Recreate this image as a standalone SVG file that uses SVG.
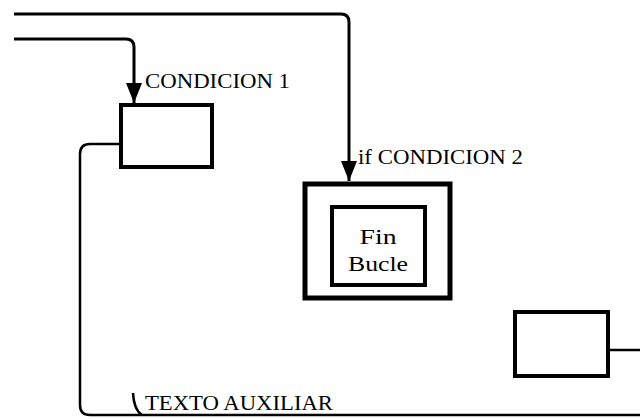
<svg xmlns="http://www.w3.org/2000/svg" width="640" height="419" viewBox="0 0 640 419">
<defs>
<style>
.ln{fill:none;stroke:#000;stroke-width:3;stroke-linejoin:round}
.thin{fill:none;stroke:#000;stroke-width:2.5}
.box{fill:#fff;stroke:#000;stroke-width:4}
.obox{fill:#fff;stroke:#000;stroke-width:5}
.t{font-family:"Liberation Serif",serif;font-size:20px;fill:#000}
.tn{font-family:"Liberation Serif",serif;font-size:21px;fill:#000}
</style>
<marker id="ah" markerWidth="20" markerHeight="16" refX="20" refY="8" orient="auto" markerUnits="userSpaceOnUse" viewBox="0 0 20 16">
<path d="M0,0 L20,8 L0,16 Z" fill="#000"/>
</marker>
</defs>
<rect width="640" height="419" fill="#fff"/>
<g id="connectors">
<path class="ln" d="M14,14 H341 Q349,14 349,22 V181" marker-end="url(#ah)"/>
<path class="ln" d="M14,39 H126 Q134,39 134,47 V103" marker-end="url(#ah)"/>
<path class="thin" d="M120,144 H90 Q80,144 80,154 V405 Q80,415 90,415 H640"/>
<path class="thin" d="M610,350 H640"/>
<path class="thin" d="M133,393 Q134,410 142,415"/>
</g>
<g id="n1"><rect class="box" x="121" y="105" width="91" height="62"/></g>
<g id="n2"><rect class="obox" x="305" y="184" width="145" height="114"/></g>
<g id="n3"><rect class="box" x="332" y="207" width="93" height="78"/>
<text class="tn" x="378" y="244" text-anchor="middle" textLength="37" lengthAdjust="spacingAndGlyphs">Fin</text>
<text class="tn" x="378" y="271" text-anchor="middle" textLength="60" lengthAdjust="spacingAndGlyphs">Bucle</text></g>
<g id="n4"><rect class="box" x="515" y="312" width="93" height="64"/></g>
<g id="labels">
<text class="t" x="145" y="88" textLength="145" lengthAdjust="spacingAndGlyphs">CONDICION 1</text>
<text class="t" x="358" y="164" textLength="165" lengthAdjust="spacingAndGlyphs">if CONDICION 2</text>
<text class="t" x="145" y="410" textLength="188" lengthAdjust="spacingAndGlyphs">TEXTO AUXILIAR</text>
</g>
</svg>
